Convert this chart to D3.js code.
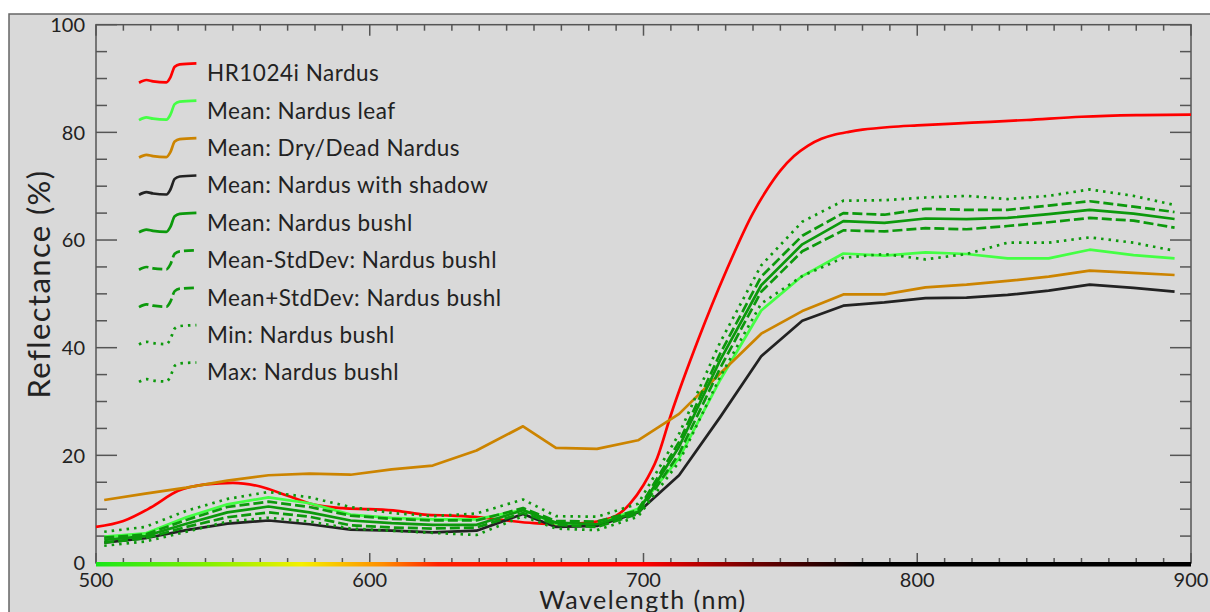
<!DOCTYPE html>
<html>
<head>
<meta charset="utf-8">
<script src="https://cdn.jsdelivr.net/npm/d3@7"></script>
<style>
  html, body { margin: 0; padding: 0; background: #fff; }
  svg { display: block; font-family: Lato, "DejaVu Sans", sans-serif; }
</style>
</head>
<body>
<svg id="chart" width="1210" height="612"></svg>
<script>
// band centres of the camera (nm)
const bands = [503, 518, 533, 548, 563, 578, 593, 608, 623, 639, 656, 668, 683, 698,
               713, 728, 743, 758, 773, 788, 803, 818, 833, 848, 863, 879, 894];

// HR1024i field spectrometer, read every few nm
const hrWave = [500, 510, 520, 530, 540, 550, 560, 570, 580, 590, 600, 610, 620, 630, 640,
                650, 660, 670, 680, 690, 695, 700, 705, 710, 720, 730, 740, 745, 750, 755, 760,
                765, 770, 775, 780, 790, 800, 820, 840, 860, 880, 900];
const hrNardus = [6.7, 7.8, 10.3, 13.4, 14.6, 14.9, 14.2, 12.5, 10.8, 10.2, 10.0, 9.7, 9.0, 8.8, 8.5,
                  7.9, 7.4, 7.2, 7.5, 8.8, 11.0, 14.5, 19.5, 27.5, 41.5, 54.0, 65.0, 69.3, 72.9, 75.6, 77.5,
                  78.8, 79.6, 80.1, 80.5, 81.0, 81.3, 81.8, 82.3, 82.9, 83.2, 83.3];

const leafMean = [4.9, 5.5, 8.5, 10.9, 12.2, 11.1, 9.0, 8.4, 8.1, 8.1, 9.9, 7.3, 7.1, 10.1,
                  19.5, 34.0, 46.9, 53.3, 57.5, 57.1, 57.7, 57.4, 56.6, 56.6, 58.2, 57.2, 56.6];
const dryMean = [11.7, 12.9, 14.0, 15.3, 16.3, 16.6, 16.4, 17.4, 18.1, 20.9, 25.4, 21.4, 21.2, 22.8,
                 27.7, 35.2, 42.6, 46.8, 49.9, 49.9, 51.2, 51.7, 52.4, 53.2, 54.3, 53.9, 53.5];
const shadowMean = [3.8, 4.6, 6.1, 7.3, 7.9, 7.2, 6.2, 6.0, 5.7, 6.0, 9.1, 6.7, 6.9, 9.4,
                    16.3, 27.1, 38.4, 45.0, 47.8, 48.4, 49.2, 49.3, 49.8, 50.6, 51.7, 51.1, 50.4];
const bushMean = [4.3, 5.0, 7.3, 9.4, 10.5, 9.4, 7.9, 7.4, 7.1, 7.1, 9.8, 7.5, 7.2, 9.5,
                  21.6, 37.7, 51.6, 59.2, 63.5, 63.2, 64.0, 63.9, 64.1, 64.8, 65.6, 64.9, 63.9];
const bushMinusSd = [3.8, 4.6, 6.7, 8.5, 9.4, 8.6, 7.0, 6.6, 6.4, 6.6, 9.3, 7.1, 6.7, 9.1,
                     20.3, 36.2, 50.4, 57.9, 61.8, 61.6, 62.2, 62.0, 62.6, 63.3, 64.1, 63.6, 62.3];
const bushPlusSd = [4.7, 5.3, 8.0, 10.4, 11.4, 10.4, 8.8, 8.2, 7.9, 7.9, 10.2, 7.8, 7.7, 9.8,
                    22.5, 38.9, 53.2, 60.8, 65.0, 64.7, 65.8, 65.6, 65.6, 66.4, 67.2, 66.2, 65.2];
const bushMin = [3.2, 4.0, 5.8, 7.7, 8.4, 7.7, 6.4, 6.0, 5.6, 5.2, 8.7, 6.4, 6.1, 8.6,
                 18.8, 34.6, 48.2, 53.3, 56.7, 57.4, 56.4, 57.4, 59.5, 59.5, 60.5, 59.5, 58.0];
const bushMax = [5.8, 6.7, 9.7, 11.9, 13.2, 12.2, 10.4, 9.3, 8.7, 9.2, 11.8, 8.7, 8.6, 11.0,
                 24.0, 41.0, 55.3, 63.4, 67.3, 67.4, 67.9, 68.2, 67.6, 68.2, 69.4, 68.2, 66.5];

const xTicks = [500, 600, 700, 800, 900];
const yTicks = [0, 20, 40, 60, 80, 100];

const series = [
  { name: 'HR1024i Nardus',              x: hrWave, y: hrNardus,    color: '#ff0000', dash: null, smooth: true },
  { name: 'Mean: Nardus leaf',           x: bands,  y: leafMean,    color: '#44ff44', dash: null },
  { name: 'Mean: Dry/Dead Nardus',       x: bands,  y: dryMean,     color: '#cc8400', dash: null },
  { name: 'Mean: Nardus with shadow',    x: bands,  y: shadowMean,  color: '#222222', dash: null },
  { name: 'Mean: Nardus bushl',          x: bands,  y: bushMean,    color: '#0c990c', dash: null },
  { name: 'Mean-StdDev: Nardus bushl',   x: bands,  y: bushMinusSd, color: '#0c990c', dash: '10,4' },
  { name: 'Mean+StdDev: Nardus bushl',   x: bands,  y: bushPlusSd,  color: '#0c990c', dash: '10,4' },
  { name: 'Min: Nardus bushl',           x: bands,  y: bushMin,     color: '#0c990c', dash: '2.5,5' },
  { name: 'Max: Nardus bushl',           x: bands,  y: bushMax,     color: '#0c990c', dash: '2.5,5' }
];

const svg = d3.select('#chart');
const W = 1210, H = 612;

// panel background with its frame
svg.append('rect').attr('x', 9).attr('y', 14).attr('width', W).attr('height', H)
  .attr('fill', '#d9d9d9').attr('stroke', '#666').attr('stroke-width', 1.5);

const x = d3.scaleLinear().domain([500, 900]).range([96, 1191]);
const y = d3.scaleLinear().domain([0, 100]).range([563, 24.7]);

svg.append('defs').append('clipPath').attr('id', 'plot')
  .append('rect').attr('x', x(500)).attr('y', y(100))
  .attr('width', x(900) - x(500)).attr('height', y(0) - y(100));

// spectrum colour strip along the x axis
const spectrum = [[500, '#19e619'], [540, '#80f000'], [575, '#f5f000'], [605, '#ff8c00'],
                  [625, '#ff2000'], [700, '#ff0000'], [740, '#700000'], [780, '#000000'], [900, '#000000']];
const grad = svg.select('defs').append('linearGradient').attr('id', 'spec')
  .attr('gradientUnits', 'userSpaceOnUse')
  .attr('x1', x(500)).attr('x2', x(900)).attr('y1', 0).attr('y2', 0);
grad.selectAll('stop').data(spectrum).join('stop')
  .attr('offset', d => (d[0] - 500) / 400)
  .attr('stop-color', d => d[1]);

// axes (ticks pointing inward on all four sides)
const axisColor = '#555';
const xMinor = d3.range(500, 901, 10);
const yMinor = d3.range(0, 101, 5);

const gAx = svg.append('g').attr('stroke', axisColor).attr('stroke-width', 1.5).attr('fill', 'none');
gAx.append('rect').attr('x', x(500)).attr('y', y(100))
  .attr('width', x(900) - x(500)).attr('height', y(0) - y(100));

gAx.selectAll('.xt').data(xMinor).join('line')
  .attr('x1', d => x(d)).attr('x2', d => x(d))
  .attr('y1', y(0)).attr('y2', d => y(0) - (d % 100 === 0 ? 10 : 5));
gAx.selectAll('.xtt').data(xMinor).join('line')
  .attr('x1', d => x(d)).attr('x2', d => x(d))
  .attr('y1', y(100)).attr('y2', d => y(100) + (d % 100 === 0 ? 11 : 6));
gAx.selectAll('.yl').data(yMinor).join('line')
  .attr('y1', d => y(d)).attr('y2', d => y(d))
  .attr('x1', x(500)).attr('x2', d => x(500) + (d % 20 === 0 ? 21 : 11));
gAx.selectAll('.yr').data(yMinor).join('line')
  .attr('y1', d => y(d)).attr('y2', d => y(d))
  .attr('x1', x(900)).attr('x2', d => x(900) - (d % 20 === 0 ? 21 : 11));

svg.append('rect').attr('x', x(500)).attr('y', y(0) - 1).attr('width', x(900) - x(500)).attr('height', 4.5)
  .attr('fill', 'url(#spec)');

// tick labels
svg.append('g').selectAll('text').data(xTicks).join('text')
  .attr('x', d => x(d)).attr('y', 587)
  .attr('text-anchor', 'middle').attr('font-size', 20).attr('fill', '#222')
  .text(d => d);
svg.append('g').selectAll('text').data(yTicks).join('text')
  .attr('x', 85).attr('y', d => y(d)).attr('dy', '0.36em')
  .attr('text-anchor', 'end').attr('font-size', 20).attr('fill', '#222')
  .text(d => d);

// axis titles
svg.append('text').attr('x', 643).attr('y', 609)
  .attr('text-anchor', 'middle').attr('font-size', 25).attr('letter-spacing', 1.5).attr('fill', '#222')
  .text('Wavelength (nm)');
svg.append('text').attr('transform', 'translate(50,284) rotate(-90)')
  .attr('text-anchor', 'middle').attr('font-size', 31).attr('letter-spacing', 1.4).attr('fill', '#222')
  .text('Reflectance (%)');

// curves
const plot = svg.append('g').attr('clip-path', 'url(#plot)');
series.forEach(s => {
  const line = d3.line()
    .x((d, i) => x(s.x[i]))
    .y(d => y(d))
    .curve(s.smooth ? d3.curveMonotoneX : d3.curveLinear);
  plot.append('path')
    .attr('d', line(s.y))
    .attr('fill', 'none')
    .attr('stroke', s.color)
    .attr('stroke-width', 2.7)
    .attr('stroke-linejoin', 'round')
    .attr('stroke-dasharray', s.dash);
});

// legend, each entry drawn with a small spectrum-shaped glyph
const glyph = [[0, 9.7], [7.4, 7], [14, 8.3], [27.4, 9.3], [31.4, 4.3], [35.7, -6.3], [40.7, -8.7], [57.4, -9.7]];
const glyphLine = d3.line().curve(d3.curveMonotoneX);
const leg = svg.append('g').attr('transform', 'translate(139,73)');
series.forEach((s, i) => {
  const g = leg.append('g').attr('transform', `translate(0,${i * 37.4})`);
  g.append('path').attr('d', glyphLine(glyph))
    .attr('fill', 'none').attr('stroke', s.color).attr('stroke-width', 2.7)
    .attr('stroke-dasharray', s.dash);
  g.append('text').attr('x', 68).attr('dy', '0.36em')
    .attr('font-size', 22.5).attr('letter-spacing', 0.5).attr('fill', '#222')
    .text(s.name);
});
</script>
</body>
</html>
